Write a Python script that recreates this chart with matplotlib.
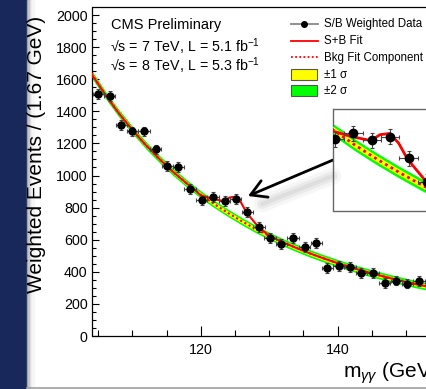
import numpy as np
import matplotlib
matplotlib.use('Agg')
import matplotlib.pyplot as plt
from matplotlib.patches import Rectangle
from matplotlib.lines import Line2D

plt.rcParams['font.family'] = ['Liberation Sans', 'DejaVu Sans']
plt.rcParams['mathtext.fontset'] = 'custom'
plt.rcParams['mathtext.rm'] = 'Liberation Sans'
plt.rcParams['mathtext.it'] = 'Liberation Sans:italic'
plt.rcParams['mathtext.bf'] = 'Liberation Sans:bold'

# ---------------- data ----------------
mass = [105.0, 106.65, 108.35, 110.0, 111.7, 113.4, 115.1, 116.7, 118.4, 120.1,
        121.8, 123.5, 125.1, 126.8, 128.5, 130.1, 131.8, 133.5, 135.2, 136.9,
        138.5, 140.2, 141.8, 143.5, 145.2, 146.9, 148.6, 150.2, 151.9, 153.6]
weighted = [1508, 1495, 1313, 1275, 1275, 1163, 1059, 1055, 914, 845,
            868, 841, 855, 771, 679, 609, 574, 609, 556, 581,
            422, 436, 428, 391, 391, 332, 345, 326, 344, 335]
err_events = 30
err_mass = 0.83

bkg_mass = [104, 106, 108, 110, 112, 114, 116, 118, 120, 122, 124, 126, 128, 130,
            132, 134, 136, 138, 140, 142, 144, 146, 148, 150, 152, 154, 156]
bkg_fit = [1633, 1505, 1388, 1283, 1187, 1100, 1020, 948, 881, 821, 766, 715, 667, 624,
           584, 548, 514, 483, 454, 427, 402, 379, 357, 337, 318, 301, 285]
peak_mass = [119.0, 120.0, 121.7, 123.4, 124.2, 125.1, 125.9, 126.7, 128.4]
peak_fit = [914, 876, 855, 840, 863, 868, 830, 768, 680]
band_1sigma = 12
band_2sigma = 23

yticks = [0, 200, 400, 600, 800, 1000, 1200, 1400, 1600, 1800, 2000]
xticks = [120, 140]

# ---------------- figure ----------------
W, H = 427, 389
fig = plt.figure(figsize=(W / 100, H / 100), dpi=100)
fig.patch.set_facecolor('white')

def fx(px):
    return px / W

def fy(py):
    return 1 - py / H

# slide background: dark blue strip, panel edge shading, bottom border
fig.add_artist(Rectangle((0, 0), fx(27), 1, transform=fig.transFigure,
                         color='#18285a', zorder=0))
shades = ['#9a9a9a', '#c4c4c4', '#dcdcdc', '#ececec', '#f6f6f6']
for i, c in enumerate(shades):
    fig.add_artist(Rectangle((fx(27 + i * 1.3), 0), fx(1.4), 1,
                             transform=fig.transFigure, color=c, zorder=0))
fig.add_artist(Line2D([fx(27), 1], [fy(387.5), fy(387.5)], transform=fig.transFigure,
                      color='#a0a0a0', lw=1.2, zorder=1))

bm = np.array(bkg_mass, dtype=float)
bf = np.array(bkg_fit, dtype=float)
sb_x = np.concatenate([bm[bm < 119], peak_mass, bm[bm >= 130]])
sb_y = np.concatenate([bf[bm < 119], peak_fit, bf[bm >= 130]])

def draw_content(a, ms, lw_fit):
    a.fill_between(bm, bf - band_2sigma, bf + band_2sigma, color='#00ff00', lw=0, zorder=2)
    a.fill_between(bm, bf - band_1sigma, bf + band_1sigma, color='#ffff00', lw=0, zorder=3)
    a.plot(bm, bf, color='red', lw=lw_fit, ls=(0, (1, 1.3)), zorder=4)
    a.plot(sb_x, sb_y, color='red', lw=lw_fit, zorder=5, solid_joinstyle='round')
    a.errorbar(mass, weighted, yerr=err_events, xerr=err_mass, fmt='o', color='black',
               ms=ms, ecolor='#444444', elinewidth=0.8, capsize=1.2, capthick=0.8,
               zorder=6)

# main axes (extends past the right edge, as in the cropped original)
left_px, bottom_px, top_px, right_px = 92.5, 336, 7, 461
ax = fig.add_axes([fx(left_px), fy(bottom_px), (right_px - left_px) / W,
                   (bottom_px - top_px) / H])
ax.set_facecolor('none')
x0 = 104.15
ax.set_xlim(x0, x0 + (right_px - left_px) / 6.835)
ax.set_ylim(0, 2050)
draw_content(ax, 5.0, 1.5)
ax.set_yticks(yticks)
ax.set_yticks(np.arange(0, 2050, 50), minor=True)
ax.set_xticks(xticks)
ax.set_xticks(np.arange(105, 160, 5), minor=True)
ax.tick_params(axis='y', which='major', direction='in', length=5, width=0.8,
               labelsize=10.3, pad=3.5)
ax.tick_params(axis='y', which='minor', direction='in', length=2.8, width=0.8)
ax.tick_params(axis='x', which='major', direction='in', length=7, width=0.8,
               labelsize=10.3, pad=5)
ax.tick_params(axis='x', which='minor', direction='in', length=4.3, width=0.8)
for s in ax.spines.values():
    s.set_linewidth(0.9)

# axis titles
fig.text(fx(37), fy(293), 'Weighted Events / (1.67 GeV)', rotation=90,
         ha='center', va='bottom', fontsize=15)
fig.text(fx(343), fy(378), r'm$_{\gamma\gamma}$ (GeV)', ha='left', va='baseline',
         fontsize=15)

# header texts
fig.text(fx(111.5), fy(29.3), 'CMS Preliminary', fontsize=10.5, va='baseline')
fig.text(fx(110), fy(51.7), '\u221as = 7 TeV, L = 5.1 fb$^{\\mathregular{-1}}$',
         fontsize=10.3, va='baseline')
fig.text(fx(110), fy(70.7), '\u221as = 8 TeV, L = 5.3 fb$^{\\mathregular{-1}}$',
         fontsize=10.3, va='baseline')

# legend (drawn by hand, partly cut off on the right as in the original)
lx0, lx1, ltx = 291, 317.5, 324.3
fig.add_artist(Line2D([fx(lx0), fx(lx1)], [fy(24), fy(24)], transform=fig.transFigure,
                      color='#888888', lw=1.3))
fig.add_artist(Line2D([fx(304)], [fy(24)], transform=fig.transFigure, marker='o',
                      color='black', ms=4))
fig.add_artist(Line2D([fx(lx0), fx(lx1)], [fy(40.7), fy(40.7)], transform=fig.transFigure,
                      color='red', lw=1.3))
fig.add_artist(Line2D([fx(lx0), fx(lx1)], [fy(57.3), fy(57.3)], transform=fig.transFigure,
                      color='red', lw=1.3, ls=(0, (1, 1.3))))
fig.add_artist(Rectangle((fx(lx0), fy(80)), fx(lx1) - fx(lx0), (80 - 69) / H,
                         transform=fig.transFigure, facecolor='#ffff00',
                         edgecolor='#555555', lw=0.8))
fig.add_artist(Rectangle((fx(lx0), fy(96)), fx(lx1) - fx(lx0), (96 - 85) / H,
                         transform=fig.transFigure, facecolor='#00ff00',
                         edgecolor='#555555', lw=0.8))
leg_texts = ['S/B Weighted Data', 'S+B Fit', 'Bkg Fit Component', '\u00b11 \u03c3', '\u00b12 \u03c3']
leg_base = [27.3, 44.3, 60.7, 77.5, 93.8]
for t, b in zip(leg_texts, leg_base):
    fig.text(fx(ltx), fy(b), t, fontsize=8.3, va='baseline')

# arrow shadow and arrow
for lw_s, al in [(12, 0.05), (7, 0.07), (3, 0.08)]:
    fig.add_artist(Line2D([fx(262), fx(333)], [fy(204), fy(176)], transform=fig.transFigure,
                          color='#555555', lw=lw_s, alpha=al, solid_capstyle='round'))
ax.annotate('', xy=(248, H - 196), xytext=(333, H - 160), xycoords='figure pixels',
            textcoords='figure pixels',
            arrowprops=dict(arrowstyle='->, head_length=0.55, head_width=0.32',
                            lw=2, color='black', mutation_scale=20,
                            shrinkA=0, shrinkB=0))

# inset zoom
ins_left, ins_top, ins_bottom, ins_w = 333.5, 108.5, 211, 150
ax2 = fig.add_axes([fx(ins_left), fy(ins_bottom), ins_w / W, (ins_bottom - ins_top) / H])
ax2.set_facecolor('white')
ax2.set_xlim(120.0, 120.0 + ins_w / 11.04)
ax2.set_ylim(566, 965)
draw_content(ax2, 6.0, 2.0)
ax2.set_xticks([])
ax2.set_yticks([])
for s in ax2.spines.values():
    s.set_color('#666666')
    s.set_linewidth(1.0)

fig.savefig('out.png', dpi=100)
